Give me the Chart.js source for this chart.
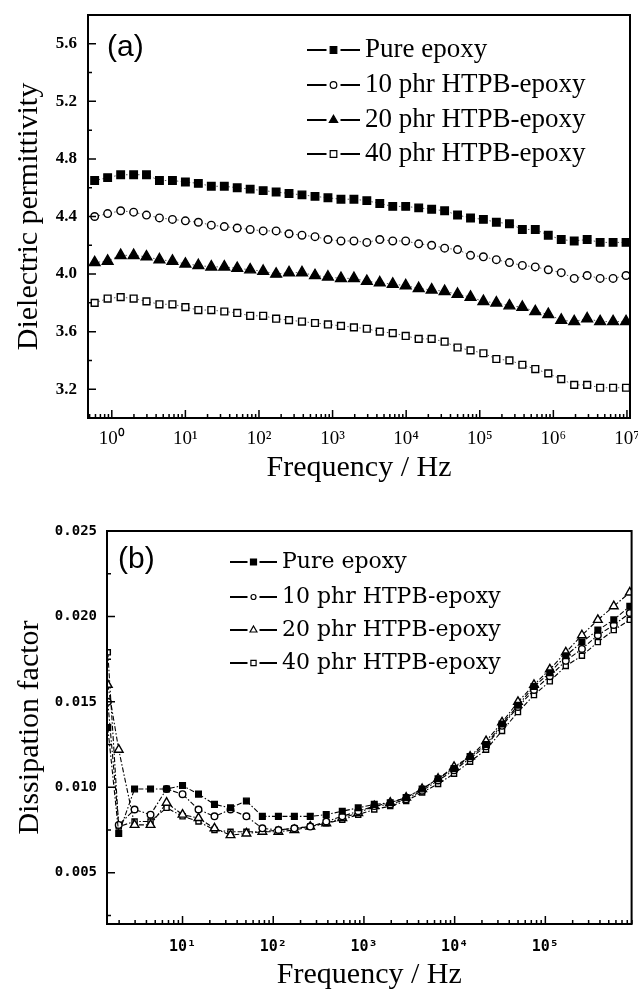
<!DOCTYPE html>
<html>
<head>
<meta charset="utf-8">
<script src="https://cdn.jsdelivr.net/npm/chart.js@4/dist/chart.umd.min.js"></script>
<style>
  html, body { margin: 0; padding: 0; background: #fff; }
  #wrap { position: relative; width: 638px; height: 997px; }
  canvas { position: absolute; left: 0; }
  #chartA { top: 0; }
  #chartB { top: 495px; }
</style>
</head>
<body>
<div id="wrap">
  <canvas id="chartA" width="638" height="495"></canvas>
  <canvas id="chartB" width="638" height="502"></canvas>
</div>
<script>
// series names (same for both panels)
const seriesNames = ['Pure epoxy', '10 phr HTPB-epoxy', '20 phr HTPB-epoxy', '40 phr HTPB-epoxy'];

// (a) dielectric permittivity
const freqA = [0.585, 0.878, 1.32, 1.98, 2.96, 4.44, 6.67, 10, 15, 22.5, 33.8, 50.6, 75.9, 114, 171, 256, 384, 577, 865, 1300, 1950, 2920, 4380, 6570, 9850, 14800, 22200, 33300, 49900, 74900, 112000, 168000, 253000, 379000, 568000, 853000, 1280000, 1920000, 2880000, 4320000, 6480000, 9720000];
const pureA  = [4.65, 4.67, 4.69, 4.69, 4.69, 4.65, 4.65, 4.64, 4.63, 4.61, 4.61, 4.60, 4.59, 4.58, 4.57, 4.56, 4.55, 4.54, 4.53, 4.52, 4.52, 4.51, 4.49, 4.47, 4.47, 4.46, 4.45, 4.44, 4.41, 4.39, 4.38, 4.36, 4.35, 4.31, 4.31, 4.27, 4.24, 4.23, 4.24, 4.22, 4.22, 4.22];
const phr10A = [4.40, 4.42, 4.44, 4.43, 4.41, 4.39, 4.38, 4.37, 4.36, 4.34, 4.33, 4.32, 4.31, 4.30, 4.30, 4.28, 4.27, 4.26, 4.24, 4.23, 4.23, 4.22, 4.24, 4.23, 4.23, 4.21, 4.20, 4.18, 4.17, 4.13, 4.12, 4.10, 4.08, 4.06, 4.05, 4.03, 4.01, 3.97, 3.99, 3.97, 3.97, 3.99];
const phr20A = [4.08, 4.09, 4.13, 4.13, 4.12, 4.10, 4.09, 4.07, 4.06, 4.05, 4.05, 4.04, 4.03, 4.02, 4.00, 4.01, 4.01, 3.99, 3.98, 3.97, 3.97, 3.95, 3.94, 3.93, 3.92, 3.90, 3.89, 3.88, 3.86, 3.84, 3.81, 3.80, 3.78, 3.77, 3.74, 3.72, 3.68, 3.67, 3.69, 3.67, 3.67, 3.67];
const phr40A = [3.80, 3.83, 3.84, 3.83, 3.81, 3.79, 3.79, 3.77, 3.75, 3.75, 3.74, 3.73, 3.71, 3.71, 3.69, 3.68, 3.67, 3.66, 3.65, 3.64, 3.63, 3.62, 3.60, 3.59, 3.57, 3.55, 3.55, 3.53, 3.49, 3.47, 3.45, 3.41, 3.40, 3.37, 3.34, 3.31, 3.27, 3.23, 3.23, 3.21, 3.21, 3.21];
const xTicksA = [1, 10, 100, 1e3, 1e4, 1e5, 1e6, 1e7];
const yTicksA = [3.2, 3.6, 4.0, 4.4, 4.8, 5.2, 5.6];
const yMinorA = [3.4, 3.8, 4.2, 4.6, 5.0, 5.4];

// (b) dissipation factor
const freqB = [1.5, 1.98, 2.96, 4.44, 6.67, 10, 15, 22.5, 33.8, 50.6, 75.9, 114, 171, 256, 384, 577, 865, 1300, 1950, 2920, 4380, 6570, 9850, 14800, 22200, 33300, 49900, 74900, 112000, 168000, 253000, 379000, 568000, 853000];
const pureB  = [0.0135, 0.0073, 0.0099, 0.0099, 0.0099, 0.0101, 0.0096, 0.0090, 0.0088, 0.0092, 0.0083, 0.0083, 0.0083, 0.0083, 0.0084, 0.0086, 0.0088, 0.0090, 0.0091, 0.0094, 0.0099, 0.0105, 0.0111, 0.0118, 0.0125, 0.0137, 0.0148, 0.0159, 0.0167, 0.0177, 0.0185, 0.0192, 0.0198, 0.0206];
const phr10B = [0.0150, 0.0078, 0.0087, 0.0084, 0.0099, 0.0096, 0.0087, 0.0083, 0.0087, 0.0083, 0.0076, 0.0075, 0.0076, 0.0077, 0.0080, 0.0083, 0.0086, 0.0089, 0.0090, 0.0093, 0.0098, 0.0104, 0.0110, 0.0117, 0.0124, 0.0136, 0.0147, 0.0157, 0.0165, 0.0174, 0.0181, 0.0189, 0.0195, 0.0202];
const phr20B = [0.0160, 0.0122, 0.0078, 0.0078, 0.0091, 0.0084, 0.0082, 0.0076, 0.0072, 0.0073, 0.0074, 0.0074, 0.0075, 0.0077, 0.0079, 0.0082, 0.0085, 0.0089, 0.0091, 0.0094, 0.0099, 0.0105, 0.0112, 0.0118, 0.0127, 0.0138, 0.0150, 0.0160, 0.0169, 0.0179, 0.0189, 0.0198, 0.0206, 0.0214];
const phr40B = [0.0179, 0.0077, 0.0080, 0.0080, 0.0088, 0.0083, 0.0080, 0.0075, 0.0074, 0.0074, 0.0074, 0.0075, 0.0076, 0.0077, 0.0079, 0.0081, 0.0084, 0.0087, 0.0089, 0.0092, 0.0097, 0.0102, 0.0108, 0.0115, 0.0122, 0.0133, 0.0144, 0.0154, 0.0162, 0.0171, 0.0177, 0.0185, 0.0192, 0.0198];
const xTicksB = [10, 100, 1e3, 1e4, 1e5];
const yTicksB = [0.005, 0.010, 0.015, 0.020, 0.025];
const yMinorB = [0.0025, 0.0075, 0.0125, 0.0175, 0.0225];

const sup = { '0': '⁰', '1': '¹', '2': '²', '3': '³', '4': '⁴', '5': '⁵', '6': '⁶', '7': '⁷', '8': '⁸', '9': '⁹' };
function powLabel(v) {
    const e = Math.round(Math.log10(v));
    return '10' + String(e).split('').map(c => sup[c]).join('');
}

function marker(ctx, style, x, y, r, fill) {
    ctx.beginPath();
    if (style === 'rect') {
        ctx.rect(x - r, y - r, 2 * r, 2 * r);
    } else if (style === 'triangle') {
        ctx.moveTo(x, y - r);
        ctx.lineTo(x + r * 0.866, y + r * 0.5);
        ctx.lineTo(x - r * 0.866, y + r * 0.5);
        ctx.closePath();
    } else {
        ctx.arc(x, y, r, 0, Math.PI * 2);
    }
    ctx.fillStyle = fill;
    ctx.fill();
    ctx.stroke();
}

// box round the plot + inward tick marks on bottom and left axes
const frameAndTicks = {
    id: 'frameAndTicks',
    afterDraw(chart, args, o) {
        const { ctx, chartArea: a, scales: { x, y } } = chart;
        ctx.save();
        ctx.strokeStyle = '#000';
        ctx.setLineDash([]);
        ctx.lineWidth = o.tickWidth;
        ctx.beginPath();
        const tx = (v, len) => {
            const p = x.getPixelForValue(v);
            if (p < a.left - 0.5 || p > a.right + 0.5) return;
            ctx.moveTo(p, a.bottom); ctx.lineTo(p, a.bottom - len);
        };
        const ty = (v, len) => {
            const p = y.getPixelForValue(v);
            if (p < a.top - 0.5 || p > a.bottom + 0.5) return;
            ctx.moveTo(a.left, p); ctx.lineTo(a.left + len, p);
        };
        o.xMajor.forEach(v => tx(v, o.major));
        const lo = Math.floor(Math.log10(x.min)), hi = Math.ceil(Math.log10(x.max));
        for (let e = lo; e <= hi; e++) {
            for (let m = 2; m <= 9; m++) tx(m * Math.pow(10, e), o.minor);
        }
        o.yMajor.forEach(v => ty(v, o.major));
        o.yMinor.forEach(v => ty(v, o.minor));
        ctx.stroke();
        ctx.lineWidth = o.frameWidth;
        ctx.strokeRect(a.left, a.top, a.right - a.left, a.bottom - a.top);
        ctx.restore();
    }
};

// legend drawn inside the plot like "—■— label", plus the panel tag
const sampleLegend = {
    id: 'sampleLegend',
    afterDraw(chart, args, o) {
        const { ctx, chartArea: a } = chart;
        ctx.save();
        ctx.textBaseline = 'middle';
        ctx.textAlign = 'left';
        ctx.fillStyle = '#000';
        ctx.font = o.tagFont;
        ctx.fillText(o.tag, a.left + o.tagX, a.top + o.tagY);
        chart.data.datasets.forEach((ds, i) => {
            const y = a.top + o.rows[i];
            const x0 = a.left + o.x;
            const mx = x0 + o.len / 2;
            ctx.strokeStyle = '#000';
            ctx.setLineDash([]);
            ctx.lineWidth = o.lineWidth;
            ctx.beginPath();
            ctx.moveTo(x0, y); ctx.lineTo(mx - o.gap, y);
            ctx.moveTo(mx + o.gap, y); ctx.lineTo(x0 + o.len, y);
            ctx.stroke();
            ctx.lineWidth = 1.2;
            marker(ctx, ds.pointStyle, mx, y, o.markerR[i], ds.pointBackgroundColor);
            ctx.fillStyle = '#000';
            ctx.font = o.font;
            ctx.fillText(ds.label, x0 + o.len + o.textGap, y);
        });
        ctx.restore();
    }
};

const stylesA = [
    { style: 'rect', fill: '#000', r: 5.3 },
    { style: 'circle', fill: '#fff', r: 3.8 },
    { style: 'triangle', fill: '#000', r: 6.2 },
    { style: 'rect', fill: '#fff', r: 4.8 }
];
const stylesB = [
    { style: 'rect', fill: '#000', r: 4 },
    { style: 'circle', fill: '#fff', r: 3.3 },
    { style: 'triangle', fill: '#fff', r: 5 },
    { style: 'rect', fill: '#fff', r: 3.6 }
];

function makeSets(freq, series, styles, line) {
    return series.map((vals, i) => ({
        label: seriesNames[i],
        data: freq.map((f, j) => ({ x: f, y: vals[j] })),
        pointStyle: styles[i].style,
        pointRadius: styles[i].r,
        pointBackgroundColor: styles[i].fill,
        pointBorderColor: '#000',
        pointBorderWidth: 1.4,
        borderColor: line.color,
        borderWidth: line.width,
        borderDash: line.dash,
        tension: 0,
        fill: false
    }));
}

const serif = 'Liberation Serif, Times New Roman, serif';
const mono = 'DejaVu Sans Mono, monospace';

// panel (a)
new Chart(document.getElementById('chartA'), {
    type: 'line',
    data: { datasets: makeSets(freqA, [pureA, phr10A, phr20A, phr40A], stylesA, { color: '#555', width: 1, dash: [1.5, 2.5] }) },
    options: {
        responsive: false,
        animation: false,
        layout: { padding: { left: 0, right: 8, top: 15, bottom: 0 } },
        plugins: {
            legend: { display: false },
            tooltip: { enabled: false },
            frameAndTicks: { xMajor: xTicksA, yMajor: yTicksA, yMinor: yMinorA, major: 8, minor: 4, tickWidth: 1.5, frameWidth: 2 },
            sampleLegend: {
                tag: '(a)', tagX: 19, tagY: 33, tagFont: '30px "Liberation Sans", Arial, sans-serif',
                x: 219, len: 53, gap: 7, textGap: 5, lineWidth: 2,
                rows: [35, 70, 105, 139], markerR: [3.3, 3.3, 4.8, 3.3],
                font: '27px ' + serif
            }
        },
        scales: {
            x: {
                type: 'logarithmic', min: 0.475, max: 1.1e7,
                afterBuildTicks: s => { s.ticks = xTicksA.map(v => ({ value: v })); },
                afterFit: s => { s.height = 77; s.paddingLeft = 0; s.paddingRight = 0; },
                grid: { display: false, drawTicks: false },
                border: { display: false },
                ticks: { autoSkip: false, maxRotation: 0, padding: 10, color: '#000', font: { family: serif, size: 19 }, callback: v => powLabel(v) },
                title: { display: true, text: 'Frequency / Hz', color: '#000', font: { family: serif, size: 30 }, padding: { top: 0, bottom: 9 } }
            },
            y: {
                type: 'linear', min: 3.0, max: 5.8,
                afterBuildTicks: s => { s.ticks = yTicksA.map(v => ({ value: v })); },
                afterFit: s => { s.width = 88; s.paddingTop = 0; s.paddingBottom = 0; },
                grid: { display: false, drawTicks: false },
                border: { display: false },
                ticks: { padding: 11, color: '#000', font: { family: serif, size: 17, weight: 'bold' }, callback: v => Number(v).toFixed(1) },
                title: { display: true, text: 'Dielectric permittivity', color: '#000', font: { family: serif, size: 30 }, padding: { top: 11, bottom: 0 } }
            }
        }
    },
    plugins: [frameAndTicks, sampleLegend]
});

// panel (b)
new Chart(document.getElementById('chartB'), {
    type: 'line',
    data: { datasets: makeSets(freqB, [pureB, phr10B, phr20B, phr40B], stylesB, { color: '#000', width: 1.1, dash: [5, 2, 1.5, 2] }) },
    options: {
        responsive: false,
        animation: false,
        layout: { padding: { left: 0, right: 3, top: 36, bottom: 0 } },
        plugins: {
            legend: { display: false },
            tooltip: { enabled: false },
            frameAndTicks: { xMajor: xTicksB, yMajor: yTicksB, yMinor: yMinorB, major: 8, minor: 4, tickWidth: 1.5, frameWidth: 2 },
            sampleLegend: {
                tag: '(b)', tagX: 11, tagY: 29, tagFont: '30px "Liberation Sans", Arial, sans-serif',
                x: 123, len: 47, gap: 6, textGap: 5, lineWidth: 2,
                rows: [31, 66, 99, 132], markerR: [3, 2.5, 4, 2.6],
                font: '22px "DejaVu Serif", serif'
            }
        },
        scales: {
            x: {
                type: 'logarithmic', min: 1.47, max: 8.93e5,
                afterBuildTicks: s => { s.ticks = xTicksB.map(v => ({ value: v })); },
                afterFit: s => { s.height = 73; s.paddingLeft = 0; s.paddingRight = 0; },
                grid: { display: false, drawTicks: false },
                border: { display: false },
                ticks: { autoSkip: false, maxRotation: 0, padding: 14, color: '#000', font: { family: mono, size: 15, weight: 'bold' }, callback: v => powLabel(v) },
                title: { display: true, text: 'Frequency / Hz', color: '#000', font: { family: serif, size: 30 }, padding: { top: 0, bottom: 4 } }
            },
            y: {
                type: 'linear', min: 0.002, max: 0.025,
                afterBuildTicks: s => { s.ticks = yTicksB.map(v => ({ value: v })); },
                afterFit: s => { s.width = 107; s.paddingTop = 0; s.paddingBottom = 0; },
                grid: { display: false, drawTicks: false },
                border: { display: false },
                ticks: { padding: 10, color: '#000', font: { family: mono, size: 14, weight: 'bold' }, callback: v => Number(v).toFixed(3) },
                title: { display: true, text: 'Dissipation factor', color: '#000', font: { family: serif, size: 30 }, padding: { top: 12, bottom: 0 } }
            }
        }
    },
    plugins: [frameAndTicks, sampleLegend]
});
</script>
</body>
</html>
